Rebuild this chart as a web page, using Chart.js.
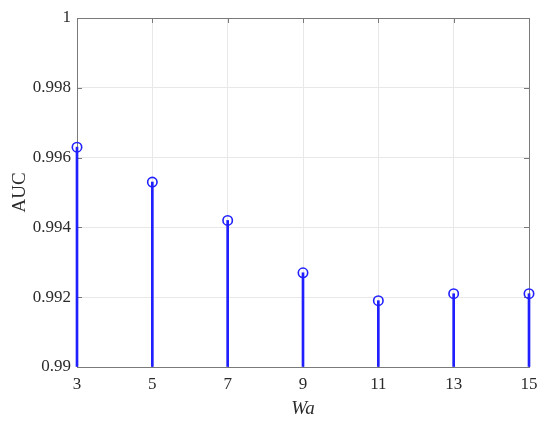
<!DOCTYPE html>
<html>
<head>
<meta charset="utf-8">
<script src="https://cdn.jsdelivr.net/npm/chart.js@4"></script>
<style>
  html, body { margin: 0; padding: 0; background: #fff; }
  #wrap { width: 550px; height: 425px; }
</style>
</head>
<body>
<div id="wrap"><canvas id="chart"></canvas></div>
<script>
const windowSizes = [3, 5, 7, 9, 11, 13, 15];
const aucValues = [0.9963, 0.9953, 0.9942, 0.9927, 0.9919, 0.9921, 0.9921];
const yTicks = [0.99, 0.992, 0.994, 0.996, 0.998, 1];
const xTitle = 'Wa';
const yTitle = 'AUC';

const stemColor = '#1f1fff';
const axisColor = '#7a7a7a';
const textColor = '#2b2b2b';
const serif = "'Liberation Serif', 'DejaVu Serif', serif";

const points = windowSizes.map((w, i) => ({ x: w, y: aucValues[i] }));

// box around the axes plus short inward ticks, like a MATLAB figure
const boxPlugin = {
  id: 'box',
  beforeDatasetsDraw(chart) {
    const { ctx, chartArea: a, scales } = chart;
    ctx.save();
    ctx.strokeStyle = axisColor;
    ctx.lineWidth = 1;
    ctx.strokeRect(a.left + 0.5, a.top + 0.5, a.right - a.left, a.bottom - a.top);
    const len = 5;
    ctx.beginPath();
    windowSizes.forEach(v => {
      const px = Math.round(scales.x.getPixelForValue(v)) + 0.5;
      ctx.moveTo(px, a.bottom); ctx.lineTo(px, a.bottom - len);
      ctx.moveTo(px, a.top); ctx.lineTo(px, a.top + len);
    });
    yTicks.forEach(v => {
      const py = Math.round(scales.y.getPixelForValue(v)) + 0.5;
      ctx.moveTo(a.left, py); ctx.lineTo(a.left + len, py);
      ctx.moveTo(a.right, py); ctx.lineTo(a.right - len, py);
    });
    ctx.stroke();
    ctx.restore();
  }
};

new Chart(document.getElementById('chart'), {
  type: 'scatter',
  data: {
    datasets: [
      {
        type: 'scatter',
        data: points,
        borderColor: stemColor,
        backgroundColor: 'rgba(0,0,0,0)',
        pointRadius: 4.7,
        pointBorderWidth: 1.6,
        showLine: false,
        clip: false,
        order: 0
      },
      {
        type: 'bar',
        data: points,
        base: yTicks[0],
        backgroundColor: stemColor,
        borderWidth: 0,
        barThickness: 2,
        clip: false,
        order: 1
      }
    ]
  },
  options: {
    responsive: true,
    maintainAspectRatio: false,
    animation: false,
    devicePixelRatio: 1,
    layout: { padding: { top: 18, right: 21, left: 0, bottom: 0 } },
    plugins: { legend: { display: false }, tooltip: { enabled: false } },
    scales: {
      x: {
        type: 'linear',
        min: 3,
        max: 15,
        offset: false,
        afterFit: s => { s.height = 58; },
        grid: { color: '#e8e8e8', drawTicks: false, offset: false },
        border: { color: axisColor },
        ticks: {
          stepSize: 2,
          padding: 7,
          color: textColor,
          font: { family: serif, size: 17 }
        },
        title: {
          display: true,
          text: xTitle,
          color: textColor,
          padding: { top: 0, bottom: 5 },
          font: { family: serif, size: 19, style: 'italic' }
        }
      },
      y: {
        min: 0.99,
        max: 1,
        afterFit: s => { s.width = 77; },
        afterBuildTicks: s => { s.ticks = yTicks.map(v => ({ value: v })); },
        grid: { color: '#e8e8e8', drawTicks: false },
        border: { color: axisColor },
        ticks: {
          padding: 6,
          color: textColor,
          font: { family: serif, size: 17 },
          callback: v => String(+v.toFixed(3))
        },
        title: {
          display: true,
          text: yTitle,
          color: textColor,
          padding: { top: 9, bottom: 0 },
          font: { family: serif, size: 19 }
        }
      }
    }
  },
  plugins: [boxPlugin]
});
</script>
</body>
</html>
